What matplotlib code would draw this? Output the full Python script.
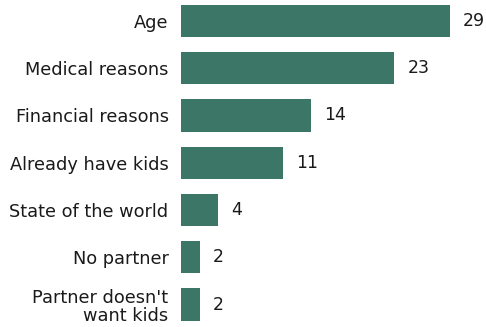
import matplotlib.pyplot as plt

categories = ["Age", "Medical reasons", "Financial reasons", "Already have kids",
              "State of the world", "No partner", "Partner doesn't\nwant kids"]
values = [29, 23, 14, 11, 4, 2, 2]

W, H = 486, 327
fig = plt.figure(figsize=(W / 100, H / 100), dpi=100)
ax = fig.add_axes([181 / W, 0, 1 - 181 / W, 1])

ypos = list(range(len(categories)))
ax.barh(ypos, values, height=0.68, color="#3b7666")
ax.set_xlim(0, (W - 181) / 9.28)
ax.set_ylim(6.476, -0.444)

for y, v in zip(ypos, values):
    ax.text(v + 1.4, y, str(v), va="center", ha="left", fontsize=12.5, color="#1a1a1a")

ax.set_yticks(ypos)
ax.set_yticklabels(categories, fontsize=12.8, color="#1a1a1a", linespacing=1.05)
ax.tick_params(axis="y", length=0, pad=9)
ax.set_xticks([])
for s in ax.spines.values():
    s.set_visible(False)

fig.savefig("out.png", dpi=100)
